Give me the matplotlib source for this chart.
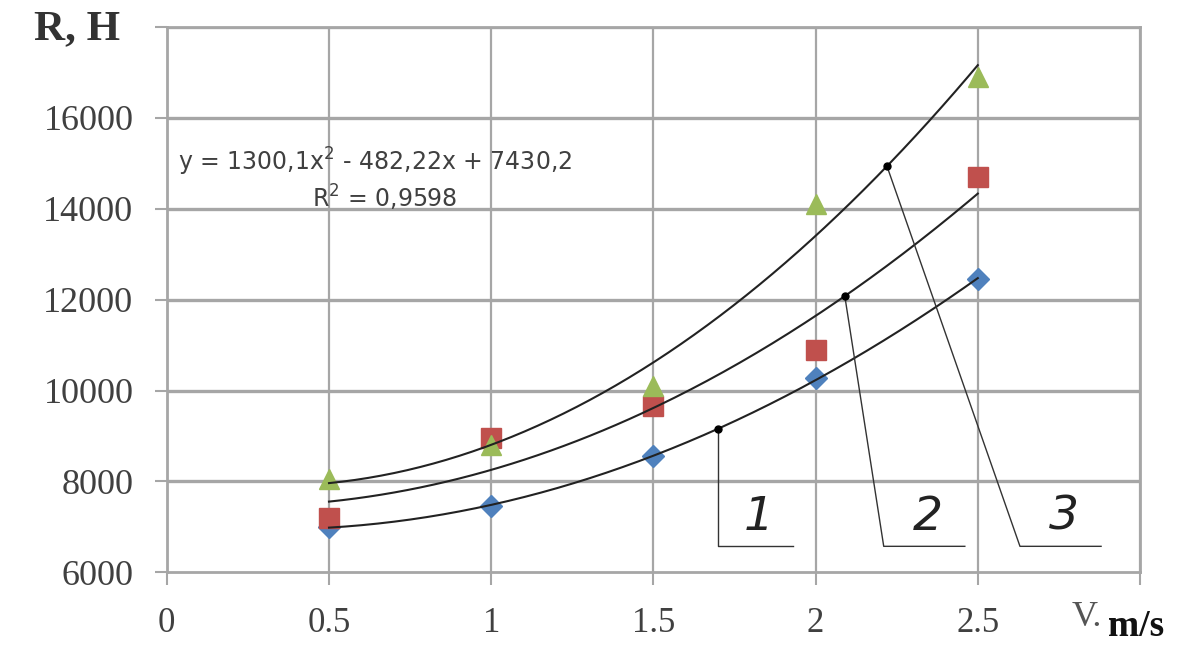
import numpy as np
import matplotlib.pyplot as plt

# speed, m/s
speed = [0.5, 1.0, 1.5, 2.0, 2.5]
# resistance R, N for the three series
series1 = [7000, 7450, 8550, 10280, 12450]
series2 = [7200, 8950, 9650, 10900, 14700]
series3 = [8050, 8800, 10100, 14100, 16900]

x_ticks = [0, 0.5, 1, 1.5, 2, 2.5, 3]
x_labels = ["0", "0.5", "1", "1.5", "2", "2.5", ""]
y_ticks = [6000, 8000, 10000, 12000, 14000, 16000, 18000]
y_labels = ["6000", "8000", "10000", "12000", "14000", "16000", ""]

# callouts: (point on curve x, leader bottom x, shelf end x, label)
callouts = [
    (1.70, 1.70, 1.93, "1"),
    (2.09, 2.21, 2.46, "2"),
    (2.22, 2.63, 2.88, "3"),
]

fig = plt.figure(figsize=(12, 6.6), dpi=100)
ax = fig.add_axes([0.139, 0.133, 0.811, 0.826])

grid_col = "#a6a6a6"
ax.set_xlim(0, 3)
ax.set_ylim(6000, 18000)
ax.set_xticks(x_ticks)
ax.set_xticklabels(x_labels, family="Liberation Serif", fontsize=25, color="#404040")
ax.set_yticks(y_ticks)
ax.set_yticklabels(y_labels, family="Liberation Serif", fontsize=26, color="#404040")
ax.tick_params(axis="both", direction="out", length=9, width=1.5, color=grid_col)
ax.tick_params(axis="x", pad=16)
ax.tick_params(axis="y", pad=15)
for s in ax.spines.values():
    s.set_color(grid_col)
    s.set_linewidth(2)
for yv in y_ticks[1:]:
    ax.axhline(yv, color=grid_col, lw=2.4, zorder=1)
for xv in x_ticks[1:]:
    ax.axvline(xv, color=grid_col, lw=1.6, zorder=1)

ax.plot(speed, series1, "D", color="#4F81BD", ms=11, zorder=3)
ax.plot(speed, series2, "s", color="#C0504D", ms=15, zorder=3)
ax.plot(speed, series3, "^", color="#9BBB59", ms=15, zorder=3)

xs = np.linspace(0.5, 2.5, 200)
fits = []
for ser in (series1, series2, series3):
    c = np.polyfit(speed, ser, 2)
    fits.append(c)
    ax.plot(xs, np.polyval(c, xs), color="#222222", lw=1.5, zorder=4)

shelf_y = 6570
for (px, bx, ex, lab), c in zip(callouts, fits):
    py = np.polyval(c, px)
    ax.plot(px, py, "o", color="black", ms=5, zorder=5)
    ax.plot([px, bx, ex], [py, shelf_y, shelf_y], color="#333333", lw=1.0, zorder=4)
    ax.text((bx + ex) / 2 + 0.01, shelf_y + 150, lab, fontsize=34, style="italic",
            fontweight="light", ha="center", va="bottom", color="#222222", zorder=5)

ax.text(0.034, 15036, "y = 1300,1x$^2$ - 482,22x + 7430,2", fontsize=17,
        color="#404040", va="center")
ax.text(0.67, 14240, "R$^2$ = 0,9598", fontsize=17, color="#404040",
        va="center", ha="center")

fig.text(0.028, 0.955, "R, H", family="Liberation Serif", fontsize=31,
         fontweight="bold", color="#333333", va="center")
fig.text(0.893, 0.065, "V.", family="Liberation Serif", fontsize=26,
         color="#555555", va="center")
fig.text(0.923, 0.05, "m/s", family="Liberation Serif", fontsize=27,
         fontweight="bold", color="#111111", va="center")

fig.savefig("out.png", dpi=100)
